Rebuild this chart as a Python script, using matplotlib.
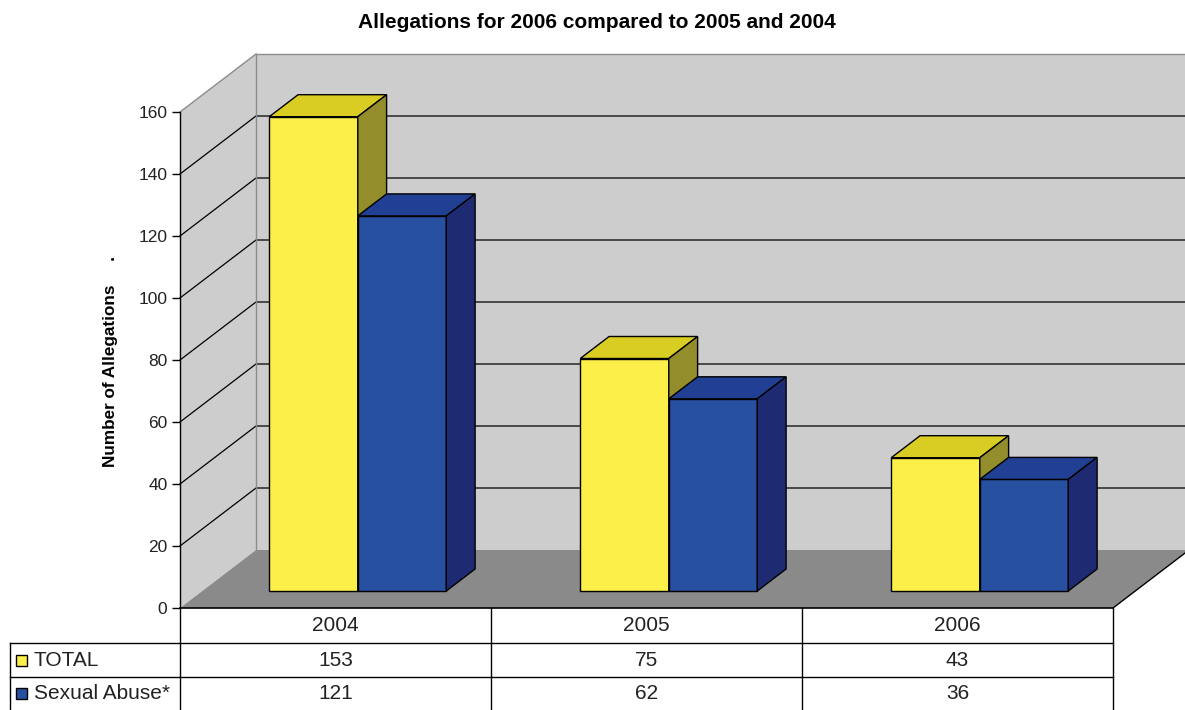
"""Allegations for 2006 compared to 2005 and 2004 -- Excel-style 3D clustered bars with data table."""
import matplotlib
matplotlib.use("Agg")
import matplotlib.pyplot as plt
from matplotlib.patches import Polygon, Rectangle

plt.rcParams["font.family"] = ["Liberation Sans", "DejaVu Sans"]

# ---- data -------------------------------------------------------------
years = ["2004", "2005", "2006"]
series_names = ["TOTAL", "Sexual Abuse*"]
total = [153, 75, 43]
sexual_abuse = [121, 62, 36]
series_values = [total, sexual_abuse]
y_ticks = [0, 20, 40, 60, 80, 100, 120, 140, 160]

# front, top, side shades per series
_COLORS = {
    "TOTAL":         ("#FCEF4A", "#D9CD24", "#938D2C"),
    "Sexual Abuse*": ("#2850A1", "#213F93", "#1E2B72"),
}
WALL = "#CDCDCD"
FLOOR = "#8A8A8A"
WALL_EDGE = "#8C8C8C"

# ---- geometry (pixel scale of the reference) ---------------------------
W_PX, H_PX, DPI = 1185, 710, 100
PX_X = 311.0          # pixels per category
PX_Y = 3.1            # pixels per value unit
LEFT_PX, FLOOR_PX = 180, 608
DEPTH_X = 76 / PX_X   # full-depth offset, category units
DEPTH_Y = 58 / PX_Y   # full-depth offset, value units
BAR_D0, BAR_D1 = 17 / 58, 39 / 58
BAR_W = 88.5 / PX_X
BAR_GAP = (1 - 2 * BAR_W) / 2
VMAX = y_ticks[-1]
NCAT = len(years)


def proj(x, v, d):
    return x + d * DEPTH_X, v + d * DEPTH_Y


def face(ax, pts, color, z, edge="black", lw=1.0):
    ax.add_patch(Polygon([proj(*p) for p in pts], closed=True, facecolor=color,
                         edgecolor=edge, linewidth=lw, zorder=z, clip_on=False,
                         joinstyle="miter"))


fig = plt.figure(figsize=(W_PX / DPI, H_PX / DPI), dpi=DPI)
ax = fig.add_axes([LEFT_PX / W_PX, (H_PX - FLOOR_PX) / H_PX,
                   (W_PX - LEFT_PX) / W_PX, FLOOR_PX / H_PX])
ax.set_xlim(0, (W_PX - LEFT_PX) / PX_X)
ax.set_ylim(0, FLOOR_PX / PX_Y)
ax.patch.set_visible(False)

# walls and floor
face(ax, [(0, 0, 0), (0, VMAX, 0), (0, VMAX, 1), (0, 0, 1)], WALL, 0, edge="none")
face(ax, [(0, 0, 1), (NCAT, 0, 1), (NCAT, VMAX, 1), (0, VMAX, 1)], WALL, 0, edge="none")
face(ax, [(0, 0, 0), (NCAT, 0, 0), (NCAT, 0, 1), (0, 0, 1)], FLOOR, 1, edge="none")

# wall outlines
for pts in ([(0, VMAX, 0), (0, VMAX, 1)], [(0, VMAX, 1), (NCAT, VMAX, 1)],
            [(0, 0, 1), (0, VMAX, 1)]):
    xs, ys = zip(*[proj(*p) for p in pts])
    ax.plot(xs, ys, color=WALL_EDGE, lw=1.0, zorder=1.5, clip_on=False)

# gridlines: diagonal on side wall, horizontal on back wall
for v in y_ticks[1:-1]:
    xs, ys = zip(proj(0, v, 0), proj(0, v, 1), proj(NCAT, v, 1))
    ax.plot(xs, ys, color="black", lw=0.9, zorder=1.2, clip_on=False)

# floor right edge
xs, ys = zip(proj(NCAT, 0, 0), proj(NCAT, 0, 1))
ax.plot(xs, ys, color="black", lw=1.0, zorder=2, clip_on=False)

# bars
z = 3
for i in range(NCAT):
    for s, name in enumerate(series_names):
        v = series_values[s][i]
        x0 = i + BAR_GAP + s * BAR_W
        x1 = x0 + BAR_W
        c_front, c_top, c_side = _COLORS[name]
        face(ax, [(x0, 0, BAR_D0), (x1, 0, BAR_D0), (x1, v, BAR_D0), (x0, v, BAR_D0)], c_front, z)
        face(ax, [(x0, v, BAR_D0), (x1, v, BAR_D0), (x1, v, BAR_D1), (x0, v, BAR_D1)], c_top, z)
        face(ax, [(x1, 0, BAR_D0), (x1, 0, BAR_D1), (x1, v, BAR_D1), (x1, v, BAR_D0)], c_side, z)
        z += 1

# front value axis
for side in ("top", "right"):
    ax.spines[side].set_visible(False)
ax.spines["left"].set_bounds(0, VMAX)
ax.spines["bottom"].set_bounds(0, NCAT)
ax.spines["left"].set_linewidth(1.0)
ax.spines["bottom"].set_linewidth(1.2)
ax.spines["left"].set_zorder(10)
ax.spines["bottom"].set_zorder(10)
ax.set_yticks(y_ticks)
ax.tick_params(axis="y", direction="out", length=6, width=1, pad=3,
               labelsize=12.5, colors="black", labelcolor="#222222")
ax.set_xticks([])
ax.set_ylabel("Number of Allegations     .", fontsize=12.3, fontweight="bold")
ax.yaxis.set_label_coords((118 - LEFT_PX) / (W_PX - LEFT_PX), 0.405)

# data table below the floor
row_edges = [0, -35 / PX_Y, -69 / PX_Y, -102 / PX_Y]
label_left = (10 - LEFT_PX) / PX_X
tbl_kw = dict(color="black", lw=1.0, zorder=10, clip_on=False)
for k in range(NCAT + 1):
    ax.plot([k, k], [row_edges[0], row_edges[-1]], **tbl_kw)
ax.plot([label_left, label_left], [row_edges[1], row_edges[-1]], **tbl_kw)
for yb in row_edges[1:3]:
    ax.plot([label_left, NCAT], [yb, yb], **tbl_kw)

for i, yr in enumerate(years):
    ax.text(i + 0.5, (row_edges[0] + row_edges[1]) / 2, yr, ha="center", va="center",
            fontsize=15, color="#222222", clip_on=False)
for s, name in enumerate(series_names):
    yc = (row_edges[s + 1] + row_edges[s + 2]) / 2
    for i in range(NCAT):
        ax.text(i + 0.5, yc, str(series_values[s][i]), ha="center", va="center",
                fontsize=15, color="#222222", clip_on=False)
    sq_w, sq_h = 11 / PX_X, 11 / PX_Y
    ax.add_patch(Rectangle(((16 - LEFT_PX) / PX_X, yc - sq_h / 2), sq_w, sq_h,
                           facecolor=_COLORS[name][0], edgecolor="black", lw=1.0,
                           zorder=11, clip_on=False))
    ax.text((34 - LEFT_PX) / PX_X, yc, name, ha="left", va="center",
            fontsize=15, color="#222222", clip_on=False)

fig.text(597 / W_PX, 1 - 22 / H_PX, "Allegations for 2006 compared to 2005 and 2004",
         ha="center", va="center", fontsize=15, fontweight="bold")

fig.savefig("out.png", dpi=DPI)
